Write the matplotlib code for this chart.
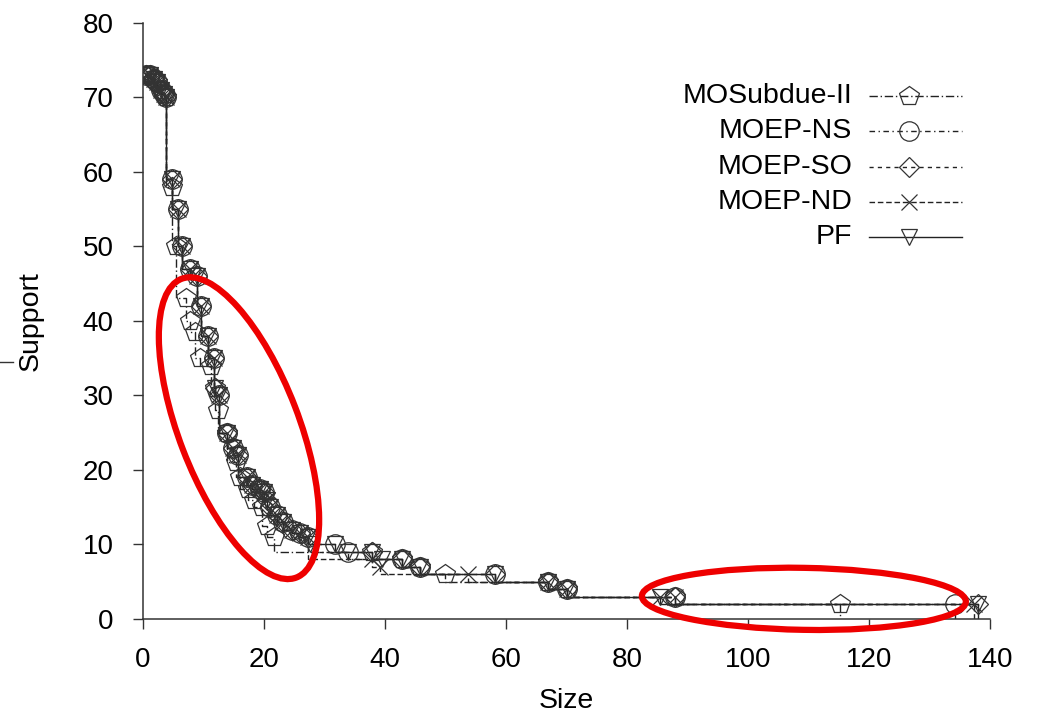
"""
Support vs. size of the Pareto fronts found by each method (step plot),
with the two regions of interest circled in red.
"""
import matplotlib
matplotlib.use("Agg")
import matplotlib.pyplot as plt
from matplotlib.lines import Line2D
from matplotlib.patches import Ellipse
from matplotlib.transforms import ScaledTranslation

plt.rcParams["font.family"] = ["Liberation Sans", "DejaVu Sans"]

# ---- data ---------------------------------------------------------------
SUB_X = [0.6, 1.2, 1.8, 2.4, 3.0, 3.5, 3.9, 4.8, 5.5, 7.2, 7.8, 8.7, 9.5, 11.2, 11.9, 12.5,
         13.9, 15.4, 16.1, 17.4, 18.3, 19.7, 20.5, 21.6, 37.8, 42.8, 45.8, 50.0, 66.9, 70.0,
         87.9, 115.1]
SUB_Y = [73, 73, 72.5, 72, 71, 70.5, 70, 58, 50, 43, 40, 38.5, 35, 34, 31, 28,
         25, 21, 19, 17.5, 16, 15, 12.5, 11, 9, 8, 7, 6, 5, 4,
         3, 2]

NS_X = [0.6, 1.2, 1.8, 2.4, 3.0, 3.5, 3.9, 4.8, 5.9, 6.5, 7.8, 8.9, 9.7, 10.8, 11.7, 12.6,
        13.9, 14.9, 15.8, 17.2, 18.0, 19.4, 20.0, 21.1, 22.1, 23.2, 24.6, 26.0, 27.3, 31.8,
        33.9, 42.8, 45.8, 58.2, 66.9, 70.0, 87.9, 134.1]
NS_Y = [73, 73, 72.5, 72, 71, 70.5, 70, 59, 55, 50, 47, 46, 42, 38, 35, 30,
        25, 23, 22, 19, 18, 17.5, 17, 15, 14, 13, 12, 11.5, 11, 10,
        9, 8, 7, 6, 5, 4, 3, 2]

SO_X = [0.6, 1.2, 1.8, 2.4, 3.0, 3.5, 3.9, 4.8, 5.9, 6.5, 7.8, 8.9, 9.7, 10.8, 11.7, 12.0,
        12.6, 13.9, 14.9, 15.8, 17.2, 18.0, 19.4, 20.0, 20.6, 21.1, 22.1, 23.2, 24.6, 26.0,
        27.3, 37.9, 42.8, 45.8, 58.2, 66.9, 70.0, 87.9, 137.9]
SO_Y = [73, 73, 72.5, 72, 71, 70.5, 70, 59, 55, 50, 47, 46, 42, 38, 35, 31,
        30, 25, 23, 22, 19, 18, 17.5, 17, 16, 15, 14, 13, 12, 11.5,
        11, 9, 8, 7, 6, 5, 4, 3, 2]

ND_X = [0.6, 1.2, 1.8, 2.4, 3.0, 3.5, 3.9, 4.8, 5.9, 6.5, 7.8, 8.9, 9.7, 10.8, 11.7, 12.6,
        13.9, 14.9, 15.8, 17.2, 18.0, 19.4, 20.0, 20.6, 22.1, 23.2, 24.6, 26.0, 27.3, 37.8,
        39.2, 53.7, 66.9, 70.0, 85.4, 87.9, 137.3]
ND_Y = [73, 73, 72.5, 72, 71, 70.5, 70, 59, 55, 50, 47, 46, 42, 38, 35, 30,
        25, 23, 22, 19, 18, 17.5, 17, 16, 14, 13, 12, 11.5, 11, 8,
        7, 6, 5, 4, 3, 3, 2]

PF_X = [0.6, 1.2, 1.8, 2.4, 3.0, 3.5, 3.9, 4.8, 5.9, 6.5, 7.8, 8.9, 9.7, 10.8, 11.7, 12.0,
        12.6, 13.9, 14.9, 15.8, 17.2, 18.0, 19.4, 20.0, 20.6, 21.1, 22.1, 23.2, 24.6, 26.0,
        27.3, 27.6, 31.8, 33.9, 37.9, 39.5, 42.8, 45.8, 58.2, 66.9, 70.0, 85.4, 137.9]
PF_Y = [73, 73, 72.5, 72, 71, 70.5, 70, 59, 55, 50, 47, 46, 42, 38, 35, 31,
        30, 25, 23, 22, 19, 18, 17.5, 17, 16, 15, 14, 13, 12, 11.5,
        11, 10, 10, 9, 9, 8, 8, 7, 6, 5, 4, 3, 2]

X_TICKS = list(range(0, 141, 20))
Y_TICKS = list(range(0, 81, 10))

# (label, x, y, marker, markersize, dash pattern or None for solid)
SERIES = [
    ("MOSubdue-II", SUB_X, SUB_Y, "p", 15, (6, 2, 1, 2)),
    ("MOEP-NS",     NS_X,  NS_Y,  "o", 14, (4, 2.5, 1, 2.5)),
    ("MOEP-SO",     SO_X,  SO_Y,  "D", 10, (3, 3)),
    ("MOEP-ND",     ND_X,  ND_Y,  "x", 12, (4, 2)),
    ("PF",          PF_X,  PF_Y,  "v", 12, None),
]

INK = "#222222"
MARKER_INK = "#333333"
TICK_FS = 20
LABEL_FS = 20.5

fig = plt.figure(figsize=(10.38, 7.14), dpi=100)
ax = fig.add_axes([0.1375, 0.1331, 0.8166, 0.8351])

for label, xs, ys, marker, ms, dashes in SERIES:
    # step line, closed off with a drop to the baseline at the last point
    line_x = xs + [xs[-1]]
    line_y = ys + [0]
    ln, = ax.plot(line_x, line_y, drawstyle="steps-pre", color=INK, lw=1.0, zorder=2)
    if dashes is not None:
        ln.set_dashes(dashes)
    ax.plot(xs, ys, linestyle="none", marker=marker, ms=ms, mfc="none",
            mec=MARKER_INK, mew=0.9, zorder=3)

ax.set_xlim(0, 140)
ax.set_ylim(0, 80)
ax.set_xticks(X_TICKS)
ax.set_yticks(Y_TICKS)
for side in ("top", "right"):
    ax.spines[side].set_visible(False)
for side in ("left", "bottom"):
    ax.spines[side].set_color("#333333")
    ax.spines[side].set_linewidth(1.1)
ax.tick_params(axis="both", direction="out", length=7, width=1.0, color="#333333",
               labelsize=TICK_FS)
ax.tick_params(axis="x", pad=13)
ax.tick_params(axis="y", pad=14)
ax.set_xlabel("Size", fontsize=LABEL_FS)
ax.set_ylabel("Support", fontsize=LABEL_FS)
ax.xaxis.set_label_coords(0.5, -0.116)
ax.yaxis.set_label_coords(-0.117, 0.5)

# gnuplot-style key: right-aligned text, sample line to its right
key_top, key_step = 96, 35.25
for i, (label, xs, ys, marker, ms, dashes) in enumerate(SERIES):
    yy = 1 - (key_top + i * key_step) / 714
    fig.text(852 / 1038, yy, label, ha="right", va="center", fontsize=LABEL_FS)
    sample = Line2D([869 / 1038, 962 / 1038], [yy, yy], transform=fig.transFigure,
                    color=INK, lw=1.0)
    if dashes is not None:
        sample.set_dashes(dashes)
    fig.add_artist(sample)
    fig.add_artist(Line2D([909 / 1038], [yy], transform=fig.transFigure, linestyle="none",
                          marker=marker, ms=ms, mfc="none", mec=MARKER_INK, mew=0.9))

# red highlight ellipses (size in inches, centred on data coordinates)
def red_ellipse(xc, yc, w_in, h_in, angle):
    tr = fig.dpi_scale_trans + ScaledTranslation(xc, yc, ax.transData)
    ax.add_artist(Ellipse((0, 0), w_in, h_in, angle=angle, transform=tr,
                          fill=False, ec="#ee0000", lw=4.5, zorder=5, clip_on=False))

red_ellipse(15.9, 25.6, 3.2, 1.2, -69)
red_ellipse(109.2, 2.7, 3.24, 0.62, -1)

# stray tick mark at the far left edge of the original figure
fig.add_artist(Line2D([0, 12.7 / 1038], [1 - 362 / 714] * 2, transform=fig.transFigure,
                      color="#333333", lw=1.0))

fig.savefig("out.png", dpi=100)
